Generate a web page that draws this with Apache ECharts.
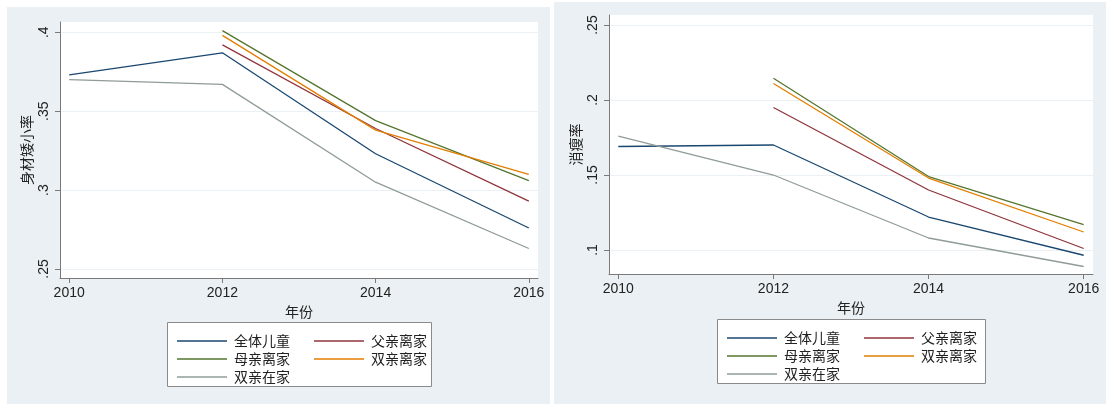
<!DOCTYPE html>
<html>
<head>
<meta charset="utf-8">
<script src="https://cdn.jsdelivr.net/npm/echarts@6/dist/echarts.min.js"></script>
<style>
  html, body { margin: 0; padding: 0; background: #ffffff; }
  #chart { width: 1106px; height: 407px; }
</style>
</head>
<body>
<div id="chart"></div>
<script>
// Survey years
const years = [2010, 2012, 2014, 2016];
const seriesNames = ['全体儿童', '父亲离家', '母亲离家', '双亲离家', '双亲在家'];
const seriesColors = ['#1a476f', '#90353b', '#55752f', '#e37e00', '#8f9c97'];

// Stunting rate (身材矮小率) by group
const stuntAll = [0.373, 0.387, 0.323, 0.276];
const stuntFatherAway = [null, 0.392, 0.339, 0.293];
const stuntMotherAway = [null, 0.401, 0.344, 0.306];
const stuntBothAway = [null, 0.398, 0.338, 0.310];
const stuntBothHome = [0.370, 0.367, 0.305, 0.263];

// Wasting rate (消瘦率) by group
const wasteAll = [0.169, 0.170, 0.122, 0.0965];
const wasteFatherAway = [null, 0.195, 0.140, 0.101];
const wasteMotherAway = [null, 0.2145, 0.149, 0.117];
const wasteBothAway = [null, 0.211, 0.148, 0.112];
const wasteBothHome = [0.176, 0.150, 0.108, 0.089];

// Tick labels
const xTicks = [2010, 2012, 2014, 2016];
const stuntTicks = [0.25, 0.3, 0.35, 0.4];
const wasteTicks = [0.1, 0.15, 0.2, 0.25];

const panelBg = '#eaf0f3';
const axisColor = '#7a7a7a';
const gridColor = '#eaf0f3';
const textColor = '#222';
const numFont = '"Liberation Sans", Arial, sans-serif';
const cjkFont = '"Noto Sans CJK SC", sans-serif';

function pairs(vals) {
  return years.map((y, i) => vals[i] == null ? null : [y, vals[i]])
              .filter(p => p !== null);
}
const trimZero = v => String(+v.toFixed(3)).replace(/^0\./, '.');

function xAxisCfg(gridIndex) {
  return {
    type: 'value', gridIndex,
    min: 2009.88, max: 2016.12,
    name: '年份', nameLocation: 'middle', nameGap: 26,
    nameTextStyle: { fontFamily: cjkFont, fontSize: 14, color: textColor },
    axisLine: { show: true, lineStyle: { color: axisColor, width: 1 } },
    axisTick: { show: true, length: 5, customValues: xTicks, lineStyle: { color: axisColor } },
    axisLabel: { customValues: xTicks, margin: 8, fontFamily: numFont, fontSize: 14, color: textColor,
                 formatter: v => String(v) },
    splitLine: { show: false }
  };
}
function yAxisCfg(gridIndex, min, max, ticks, name) {
  return {
    type: 'value', gridIndex, min, max,
    name, nameLocation: 'middle', nameGap: 26, nameRotate: 90,
    nameTextStyle: { fontFamily: cjkFont, fontSize: 14, color: textColor },
    axisLine: { show: true, lineStyle: { color: axisColor, width: 1 } },
    axisTick: { show: true, length: 5, customValues: ticks, lineStyle: { color: axisColor } },
    axisLabel: { customValues: ticks, rotate: 90, margin: 9, fontFamily: numFont, fontSize: 14,
                 color: textColor, formatter: trimZero },
    splitLine: { show: true, lineStyle: { color: gridColor, width: 1 } }
  };
}

const leftData = [stuntAll, stuntFatherAway, stuntMotherAway, stuntBothAway, stuntBothHome];
const rightData = [wasteAll, wasteFatherAway, wasteMotherAway, wasteBothAway, wasteBothHome];

const series = [];
[leftData, rightData].forEach((set, gi) => {
  set.forEach((vals, i) => {
    series.push({
      type: 'line', name: seriesNames[i], xAxisIndex: gi, yAxisIndex: gi,
      data: pairs(vals), showSymbol: false, symbol: 'none',
      lineStyle: { color: seriesColors[i], width: 1.3 },
      itemStyle: { color: seriesColors[i] },
      emphasis: { disabled: true }, animation: false
    });
  });
});

function legendCfg(left, top, names) {
  return {
    left, top, orient: 'vertical', data: names,
    icon: 'rect', itemWidth: 50, itemHeight: 1.5, itemGap: 2,
    selectedMode: false,
    textStyle: { fontFamily: cjkFont, fontSize: 14, color: textColor, lineHeight: 16, padding: [0, 0, 0, 2] }
  };
}

const chart = echarts.init(document.getElementById('chart'), null, { renderer: 'canvas' });
chart.setOption({
  backgroundColor: '#ffffff',
  animation: false,
  graphic: [
    { type: 'rect', z: -10, shape: { x: 7, y: 7, width: 543, height: 397 }, style: { fill: panelBg } },
    { type: 'rect', z: -10, shape: { x: 554, y: 2, width: 552, height: 402 }, style: { fill: panelBg } },
    { type: 'rect', z: -9, shape: { x: 60, y: 22, width: 478, height: 256 }, style: { fill: '#ffffff' } },
    { type: 'rect', z: -9, shape: { x: 609, y: 15, width: 484, height: 259 }, style: { fill: '#ffffff' } },
    { type: 'rect', z: -8, shape: { x: 167.5, y: 322.5, width: 264, height: 64 },
      style: { fill: '#ffffff', stroke: '#8a8a8a', lineWidth: 1 } },
    { type: 'rect', z: -8, shape: { x: 717.5, y: 319.5, width: 268, height: 64 },
      style: { fill: '#ffffff', stroke: '#8a8a8a', lineWidth: 1 } }
  ],
  grid: [
    { left: 60, top: 22, width: 478, height: 256 },
    { left: 609, top: 15, width: 484, height: 259 }
  ],
  xAxis: [xAxisCfg(0), xAxisCfg(1)],
  yAxis: [
    yAxisCfg(0, 0.2443, 0.4065, stuntTicks, '身材矮小率'),
    yAxisCfg(1, 0.084, 0.2567, wasteTicks, '消瘦率')
  ],
  legend: [
    legendCfg(172, 328, ['全体儿童', '母亲离家', '双亲在家']),
    legendCfg(309, 328, ['父亲离家', '双亲离家']),
    legendCfg(722, 325, ['全体儿童', '母亲离家', '双亲在家']),
    legendCfg(859, 325, ['父亲离家', '双亲离家'])
  ],
  series
});
</script>
</body>
</html>
